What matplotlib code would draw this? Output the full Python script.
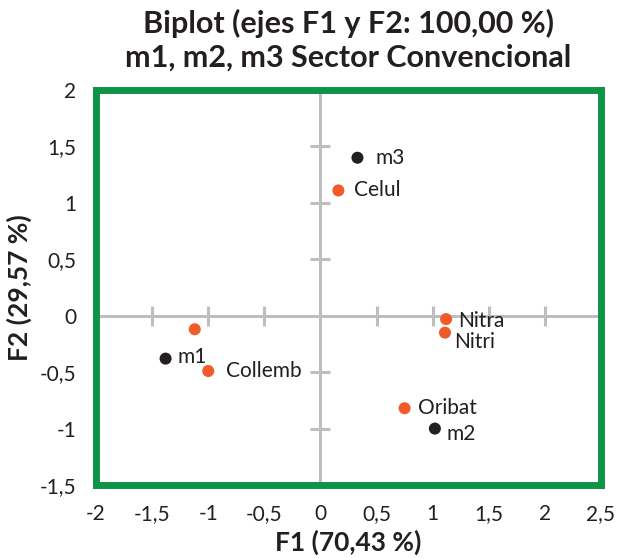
import numpy as np
import matplotlib.pyplot as plt

# Observaciones (negro) y variables (naranja)
obs_names = ['m1', 'm2', 'm3']
obs_f1 = [-1.38, 1.02, 0.33]
obs_f2 = [-0.38, -1.00, 1.40]

var_names = ['Celul', 'Nitra', 'Nitri', 'Oribat', 'Collemb', '']
var_f1 = [0.16, 1.12, 1.11, 0.75, -1.00, -1.12]
var_f2 = [1.11, -0.03, -0.15, -0.82, -0.49, -0.12]

# label offsets (pixels)
obs_off = [(12, 2), (12, -5), (18, 0)]
var_off = [(16, 0), (12, -2), (9, -9), (13, 0), (18, 0), (0, 0)]

xticks = np.arange(-2, 2.51, 0.5)
yticks = np.arange(-1.5, 2.01, 0.5)

def fmt(v):
    s = ('%g' % v).replace('.', ',')
    return s

plt.rcParams['font.family'] = ['Lato', 'DejaVu Sans']

fig = plt.figure(figsize=(6.17, 5.58), dpi=100)
ax = fig.add_axes([0.1556, 0.1308, 0.8184, 0.7079])

grey = '#BDBEC0'
ax.axhline(0, color=grey, lw=2.2, zorder=1)
ax.axvline(0, color=grey, lw=2.2, zorder=1)
xt = [t for t in xticks if t != 0]
yt = [t for t in yticks if t != 0]
ax.plot(xt, np.zeros(len(xt)), ls='none', marker='|', ms=15, mew=2.2, color=grey, zorder=1)
ax.plot(np.zeros(len(yt)), yt, ls='none', marker='_', ms=15, mew=2.2, color=grey, zorder=1)

ax.scatter(obs_f1, obs_f2, s=75, color='#231F20', zorder=3, edgecolors='none')
ax.scatter(var_f1, var_f2, s=75, color='#F15A29', zorder=3, edgecolors='none')

for n, x, y, o in zip(obs_names, obs_f1, obs_f2, obs_off):
    ax.annotate(n, (x, y), xytext=o, textcoords='offset pixels',
                fontsize=15, color='#231F20', va='center', ha='left')
for n, x, y, o in zip(var_names, var_f1, var_f2, var_off):
    if n:
        ax.annotate(n, (x, y), xytext=o, textcoords='offset pixels',
                    fontsize=15, color='#231F20', va='center', ha='left')

ax.set_xlim(-2, 2.5)
ax.set_ylim(-1.5, 2)
ax.set_xticks(xticks)
ax.set_xticklabels([fmt(t) for t in xticks])
ax.set_yticks(yticks)
ax.set_yticklabels([fmt(t) for t in yticks])
ax.tick_params(axis='x', length=0, labelsize=15, colors='#231F20', pad=14)
ax.tick_params(axis='y', length=0, labelsize=15, colors='#231F20', pad=14)

for sp in ax.spines.values():
    sp.set_color('#0E9447')
    sp.set_linewidth(5)

ax.set_xlabel('F1 (70,43 %)', fontsize=19, fontweight='bold', color='#231F20', labelpad=4)
ax.set_ylabel('F2 (29,57 %)', fontsize=19, fontweight='bold', color='#231F20', labelpad=6)
ax.set_title('Biplot (ejes F1 y F2: 100,00 %)\nm1, m2, m3 Sector Convencional',
             fontsize=22, fontweight='bold', color='#231F20', pad=17, linespacing=1.25)

fig.savefig('out.png', dpi=100)
